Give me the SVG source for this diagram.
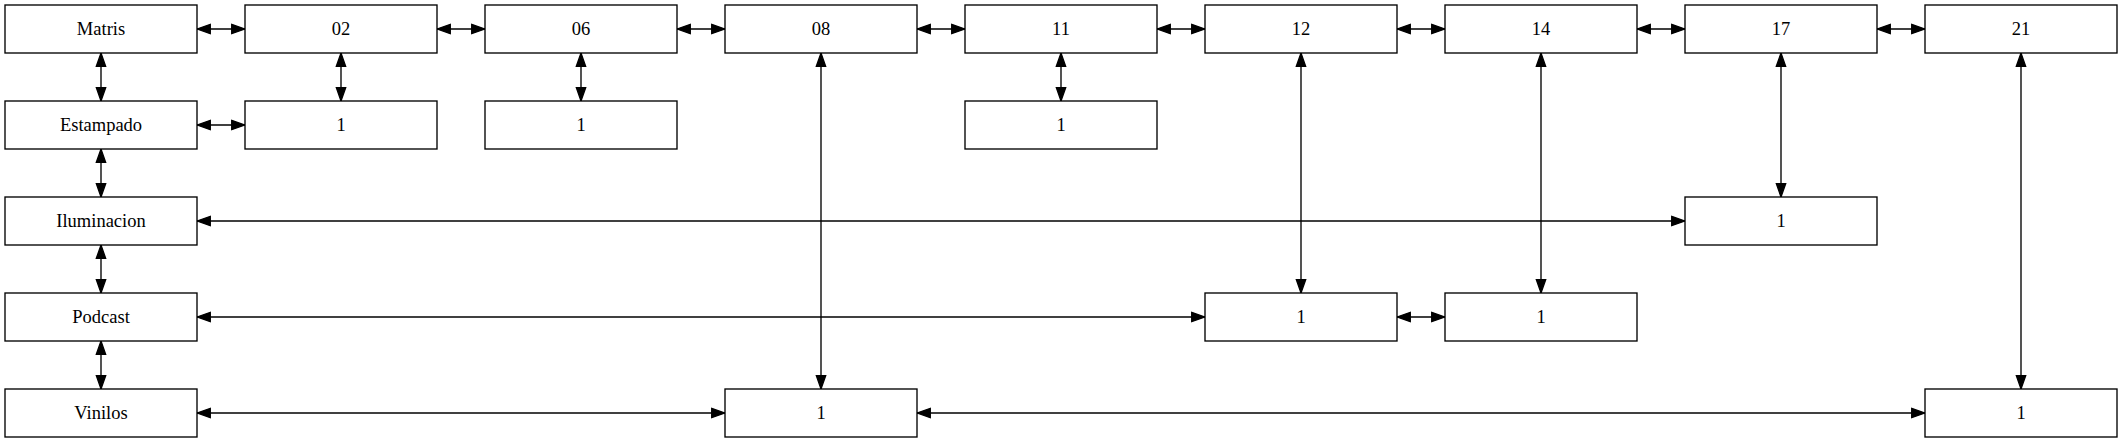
<svg xmlns="http://www.w3.org/2000/svg" width="2123" height="443" viewBox="0 0 2123 443">
<defs>
<marker id="ah" viewBox="-1 -1 15.3 11.33" refX="13.3" refY="4.67" markerWidth="15.3" markerHeight="11.33" markerUnits="userSpaceOnUse" orient="auto-start-reverse">
<path d="M0,0 L13.3,4.67 L0,9.33 Z" fill="#000" stroke="#000" stroke-width="1.3"/>
</marker>
<style>
.n rect{fill:#fff;stroke:#000;stroke-width:1.35}
.n text{font-size:18.5px;text-anchor:middle;fill:#000}
#edges line{stroke:#000;stroke-width:1.35;marker-start:url(#ah);marker-end:url(#ah)}
</style>
</defs>
<rect width="2123" height="443" fill="#fff"/>
<g id="edges">
<line x1="197" y1="29" x2="245" y2="29"/>
<line x1="437" y1="29" x2="485" y2="29"/>
<line x1="677" y1="29" x2="725" y2="29"/>
<line x1="917" y1="29" x2="965" y2="29"/>
<line x1="1157" y1="29" x2="1205" y2="29"/>
<line x1="1397" y1="29" x2="1445" y2="29"/>
<line x1="1637" y1="29" x2="1685" y2="29"/>
<line x1="1877" y1="29" x2="1925" y2="29"/>
<line x1="101" y1="53" x2="101" y2="101"/>
<line x1="101" y1="149" x2="101" y2="197"/>
<line x1="101" y1="245" x2="101" y2="293"/>
<line x1="101" y1="341" x2="101" y2="389"/>
<line x1="197" y1="125" x2="245" y2="125"/>
<line x1="341" y1="53" x2="341" y2="101"/>
<line x1="581" y1="53" x2="581" y2="101"/>
<line x1="1061" y1="53" x2="1061" y2="101"/>
<line x1="821" y1="53" x2="821" y2="389"/>
<line x1="1301" y1="53" x2="1301" y2="293"/>
<line x1="1541" y1="53" x2="1541" y2="293"/>
<line x1="1781" y1="53" x2="1781" y2="197"/>
<line x1="2021" y1="53" x2="2021" y2="389"/>
<line x1="197" y1="221" x2="1685" y2="221"/>
<line x1="197" y1="317" x2="1205" y2="317"/>
<line x1="1397" y1="317" x2="1445" y2="317"/>
<line x1="197" y1="413" x2="725" y2="413"/>
<line x1="917" y1="413" x2="1925" y2="413"/>
</g>
<g font-family="Liberation Serif, Times New Roman, DejaVu Serif, serif">
<g id="matris" class="n"><rect x="5" y="5" width="192" height="48"/><text x="101" y="35">Matris</text></g>
<g id="n02" class="n"><rect x="245" y="5" width="192" height="48"/><text x="341" y="35">02</text></g>
<g id="n06" class="n"><rect x="485" y="5" width="192" height="48"/><text x="581" y="35">06</text></g>
<g id="n08" class="n"><rect x="725" y="5" width="192" height="48"/><text x="821" y="35">08</text></g>
<g id="n11" class="n"><rect x="965" y="5" width="192" height="48"/><text x="1061" y="35">11</text></g>
<g id="n12" class="n"><rect x="1205" y="5" width="192" height="48"/><text x="1301" y="35">12</text></g>
<g id="n14" class="n"><rect x="1445" y="5" width="192" height="48"/><text x="1541" y="35">14</text></g>
<g id="n17" class="n"><rect x="1685" y="5" width="192" height="48"/><text x="1781" y="35">17</text></g>
<g id="n21" class="n"><rect x="1925" y="5" width="192" height="48"/><text x="2021" y="35">21</text></g>
<g id="estampado" class="n"><rect x="5" y="101" width="192" height="48"/><text x="101" y="131">Estampado</text></g>
<g id="est02" class="n"><rect x="245" y="101" width="192" height="48"/><text x="341" y="131">1</text></g>
<g id="est06" class="n"><rect x="485" y="101" width="192" height="48"/><text x="581" y="131">1</text></g>
<g id="est11" class="n"><rect x="965" y="101" width="192" height="48"/><text x="1061" y="131">1</text></g>
<g id="iluminacion" class="n"><rect x="5" y="197" width="192" height="48"/><text x="101" y="227">Iluminacion</text></g>
<g id="ilu17" class="n"><rect x="1685" y="197" width="192" height="48"/><text x="1781" y="227">1</text></g>
<g id="podcast" class="n"><rect x="5" y="293" width="192" height="48"/><text x="101" y="323">Podcast</text></g>
<g id="pod12" class="n"><rect x="1205" y="293" width="192" height="48"/><text x="1301" y="323">1</text></g>
<g id="pod14" class="n"><rect x="1445" y="293" width="192" height="48"/><text x="1541" y="323">1</text></g>
<g id="vinilos" class="n"><rect x="5" y="389" width="192" height="48"/><text x="101" y="419">Vinilos</text></g>
<g id="vin08" class="n"><rect x="725" y="389" width="192" height="48"/><text x="821" y="419">1</text></g>
<g id="vin21" class="n"><rect x="1925" y="389" width="192" height="48"/><text x="2021" y="419">1</text></g>
</g>
</svg>
